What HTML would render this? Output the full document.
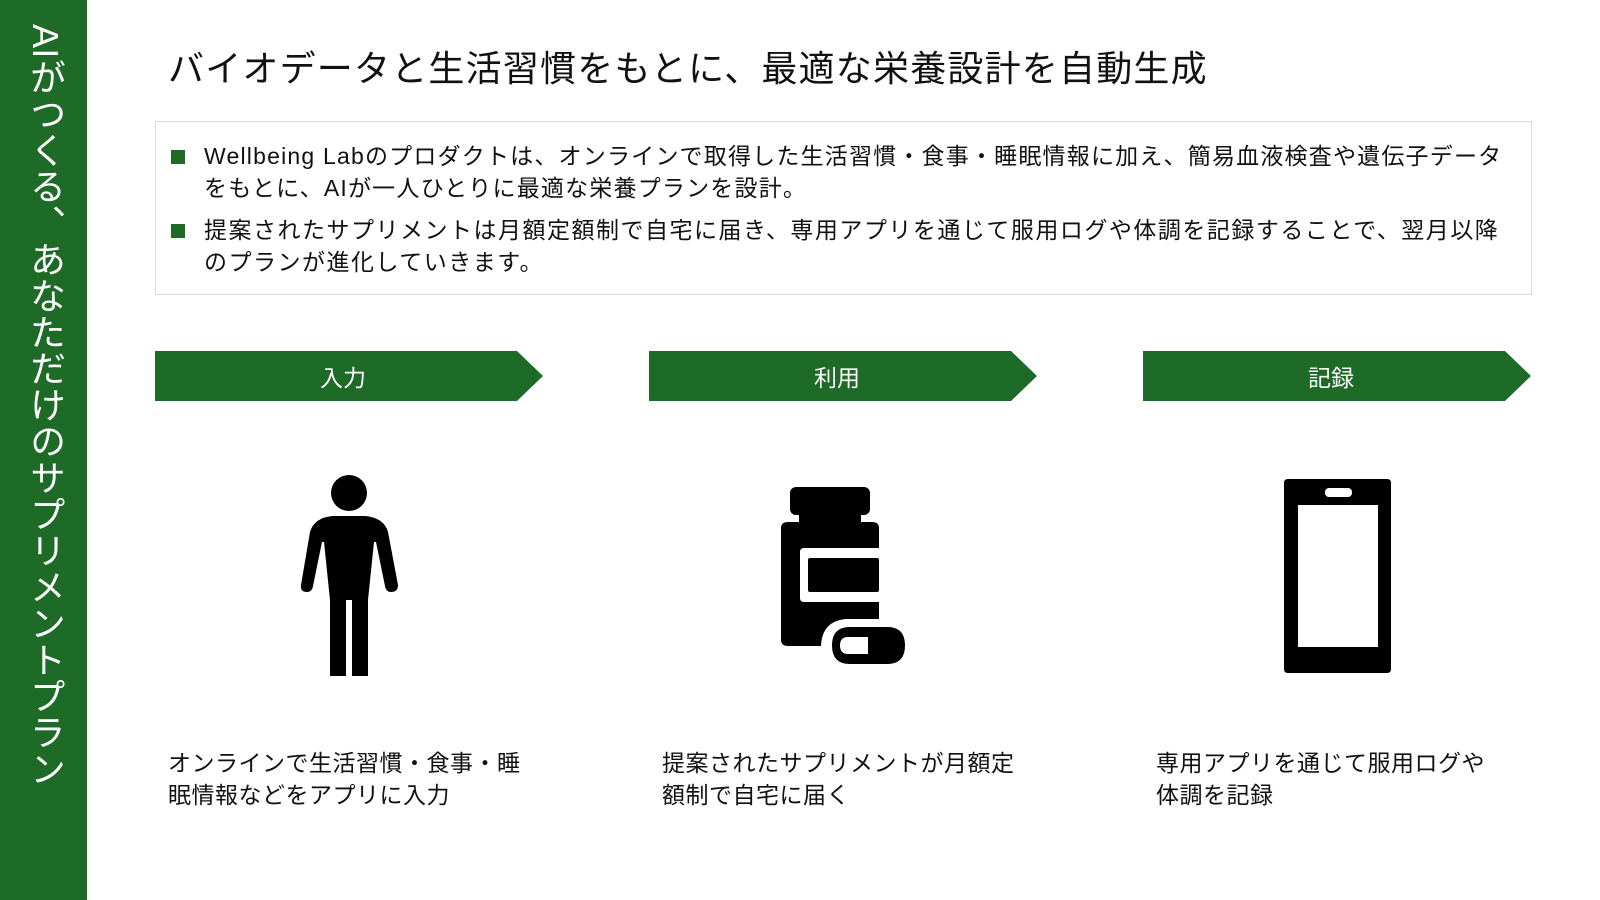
<!DOCTYPE html>
<html><head><meta charset="utf-8"><style>
body{margin:0;width:1600px;height:900px;position:relative;background:#fff;overflow:hidden;font-family:"Liberation Sans","Noto Sans CJK JP",sans-serif;color:#111}
.side{position:absolute;left:0;top:0;width:87px;height:900px;background:#1d6b27}
.vt{position:absolute;left:25px;top:24px;writing-mode:vertical-rl;color:#fff;font-size:36px;letter-spacing:0.4px;line-height:40px}
.title{position:absolute;left:168px;top:40px;font-size:36px;white-space:nowrap;letter-spacing:1.2px}
.box{position:absolute;left:155px;top:121px;width:1375px;height:172px;border:1px solid #d9d9d9}
.b{position:absolute;left:48px;font-size:23px;line-height:32px;white-space:nowrap}
.sq{position:absolute;left:15px;width:14px;height:14px;background:#1d6b27}
.cap{position:absolute;font-size:23px;line-height:32px;white-space:nowrap;letter-spacing:0.5px}
.lbl{position:absolute;top:359px;color:#fff;font-size:23px;text-align:center;width:360px}
</style></head><body>
<div class="side"><div class="vt">AIがつくる、あなただけのサプリメントプラン</div></div>
<div class="title">バイオデータと生活習慣をもとに、最適な栄養設計を自動生成</div>
<div class="box">
<div class="sq" style="top:28px"></div>
<div class="b" style="top:18px;letter-spacing:1.2px">Wellbeing Labのプロダクトは、オンラインで取得した生活習慣・食事・睡眠情報に加え、簡易血液検査や遺伝子データ<br>をもとに、AIが一人ひとりに最適な栄養プランを設計。</div>
<div class="sq" style="top:102px"></div>
<div class="b" style="top:92px;letter-spacing:1.5px">提案されたサプリメントは月額定額制で自宅に届き、専用アプリを通じて服用ログや体調を記録することで、翌月以降<br>のプランが進化していきます。</div>
</div>
<svg width="1600" height="900" style="position:absolute;left:0;top:0">
<g fill="#1d6b27">
<polygon points="155,351 517,351 543,376 517,401 155,401"/>
<polygon points="649,351 1011,351 1037,376 1011,401 649,401"/>
<polygon points="1143,351 1505,351 1531,376 1505,401 1143,401"/>
</g>
<g fill="#000">
<circle cx="349" cy="493" r="18"/>
<path d="M332,516 L366,516 Q384,518 388,532 L398,585 Q398,592 391,592 Q386,592 385,586 L376,542 L374,542 L368,600 L368,676 L352,676 L352,600 L346,600 L346,676 L330,676 L330,600 L324,542 L322,542 L313,586 Q312,592 307,592 Q300,592 301,585 L310,532 Q314,518 332,516 Z"/>
<rect x="790" y="487" width="80" height="28" rx="6"/>
<rect x="799" y="513" width="62" height="11"/>
<path d="M788,522 L872,522 Q879,522 879,528 L879,548 L804,548 Q800,548 800,552 L800,598 Q800,602 804,602 L879,602 L879,619 L846,619 Q822,621 821,646 L788,646 Q781,646 781,640 L781,528 Q781,522 788,522 Z"/>
<rect x="808" y="558" width="71" height="34" rx="2"/>
<path d="M850,627 L887,627 Q905,627 905,645.5 Q905,664 887,664 L850,664 Q832,664 832,645.5 Q832,627 850,627 Z M848,637 Q840,637 840,645.5 Q840,654 848,654 L868,654 L868,637 Z" fill-rule="evenodd"/>
<path d="M1288,479 L1387,479 Q1391,479 1391,483 L1391,669 Q1391,673 1387,673 L1288,673 Q1284,673 1284,669 L1284,483 Q1284,479 1288,479 Z M1298,505 L1298,647 L1378,647 L1378,505 Z" fill-rule="evenodd"/>
<rect x="1325" y="488" width="27" height="9" rx="4" fill="#fff"/>
</g>
</svg>
<div class="lbl" style="left:163px">入力</div>
<div class="lbl" style="left:657px">利用</div>
<div class="lbl" style="left:1151px">記録</div>
<div class="cap" style="left:168px;top:747px">オンラインで生活習慣・食事・睡<br>眠情報などをアプリに入力</div>
<div class="cap" style="left:662px;top:747px">提案されたサプリメントが月額定<br>額制で自宅に届く</div>
<div class="cap" style="left:1156px;top:747px">専用アプリを通じて服用ログや<br>体調を記録</div>
</body></html>
